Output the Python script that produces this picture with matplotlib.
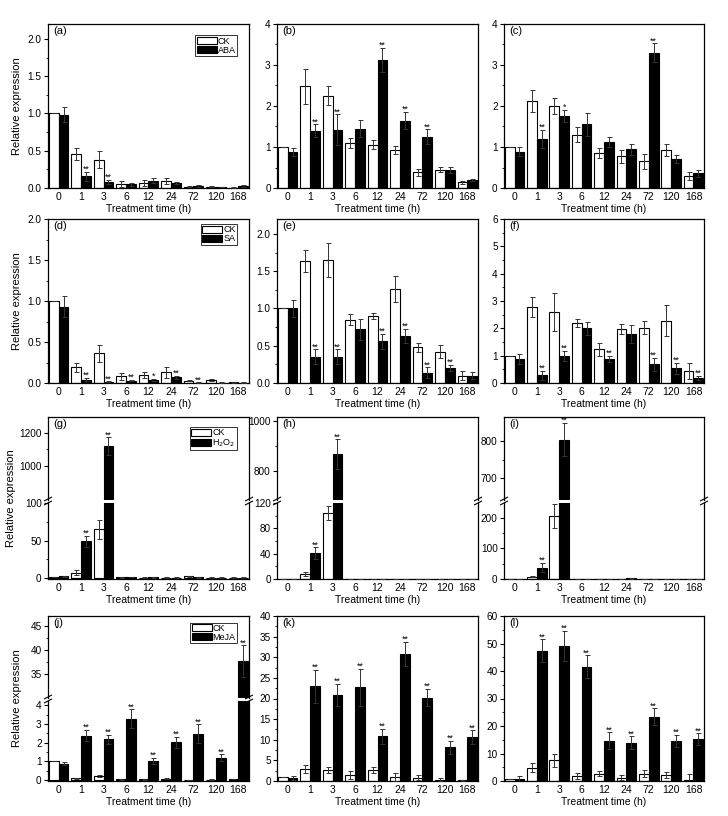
import matplotlib
matplotlib.use('Agg')
import matplotlib.pyplot as plt
from matplotlib.patches import Patch
from matplotlib.lines import Line2D
import numpy as np

plt.rcParams['font.family'] = ['Liberation Sans', 'DejaVu Sans']
plt.rcParams['font.size'] = 7.5

times = ['0', '1', '3', '6', '12', '24', '72', '120', '168']

# ---------------- data ----------------
a_ck = [1.0, 0.45, 0.38, 0.06, 0.07, 0.09, 0.02, 0.02, 0.005]
a_ck_err = [0.0, 0.08, 0.11, 0.04, 0.04, 0.04, 0.01, 0.01, 0.004]
a_tr = [0.98, 0.16, 0.08, 0.05, 0.10, 0.07, 0.025, 0.015, 0.03]
a_tr_err = [0.10, 0.06, 0.03, 0.02, 0.03, 0.01, 0.01, 0.005, 0.01]
a_sig = ['', '**', '**', '', '', '', '', '', '']

b_ck = [1.0, 2.48, 2.25, 1.10, 1.06, 0.93, 0.38, 0.45, 0.14]
b_ck_err = [0.0, 0.42, 0.23, 0.13, 0.11, 0.10, 0.09, 0.07, 0.04]
b_tr = [0.88, 1.40, 1.42, 1.45, 3.12, 1.64, 1.25, 0.44, 0.19]
b_tr_err = [0.10, 0.15, 0.38, 0.20, 0.30, 0.21, 0.18, 0.08, 0.03]
b_sig = ['', '**', '**', '', '**', '**', '**', '', '']

c_ck = [1.0, 2.12, 2.00, 1.30, 0.85, 0.77, 0.65, 0.93, 0.30]
c_ck_err = [0.0, 0.26, 0.20, 0.18, 0.13, 0.16, 0.19, 0.14, 0.10]
c_tr = [0.89, 1.20, 1.75, 1.55, 1.12, 0.94, 3.30, 0.70, 0.36]
c_tr_err = [0.10, 0.22, 0.15, 0.27, 0.13, 0.14, 0.23, 0.10, 0.09]
c_sig = ['', '**', '*', '', '', '', '**', '', '']

d_ck = [1.0, 0.19, 0.36, 0.08, 0.10, 0.13, 0.03, 0.04, 0.01]
d_ck_err = [0.0, 0.05, 0.10, 0.04, 0.04, 0.07, 0.01, 0.01, 0.005]
d_tr = [0.93, 0.04, 0.015, 0.03, 0.04, 0.07, 0.005, 0.005, 0.005]
d_tr_err = [0.13, 0.02, 0.005, 0.01, 0.01, 0.02, 0.003, 0.003, 0.003]
d_sig = ['', '**', '**', '**', '*', '**', '**', '', '']

e_ck = [1.0, 1.64, 1.65, 0.85, 0.90, 1.26, 0.48, 0.42, 0.10]
e_ck_err = [0.0, 0.15, 0.23, 0.07, 0.04, 0.17, 0.06, 0.09, 0.06]
e_tr = [1.0, 0.35, 0.35, 0.72, 0.56, 0.63, 0.14, 0.20, 0.10]
e_tr_err = [0.12, 0.10, 0.10, 0.14, 0.10, 0.10, 0.07, 0.04, 0.05]
e_sig = ['', '**', '**', '', '**', '**', '**', '**', '']

f_ck = [1.0, 2.77, 2.60, 2.20, 1.23, 1.98, 2.03, 2.28, 0.44]
f_ck_err = [0.0, 0.36, 0.68, 0.15, 0.25, 0.19, 0.25, 0.57, 0.30]
f_tr = [0.88, 0.28, 1.00, 2.00, 0.88, 1.80, 0.68, 0.54, 0.19]
f_tr_err = [0.18, 0.16, 0.18, 0.25, 0.12, 0.33, 0.24, 0.21, 0.08]
f_sig = ['', '**', '**', '', '**', '', '**', '**', '**']

g_ck = [1.0, 7.0, 65.0, 0.8, 0.5, 0.5, 2.0, 0.5, 0.5]
g_ck_err = [0.0, 3.0, 13.0, 0.3, 0.3, 0.3, 0.8, 0.2, 0.2]
g_tr = [2.0, 49.0, 1120.0, 1.0, 0.6, 0.5, 1.0, 0.4, 0.5]
g_tr_err = [0.5, 7.0, 55.0, 0.3, 0.3, 0.2, 0.5, 0.2, 0.2]
g_sig = ['', '**', '**', '', '', '', '', '', '']

h_ck = [0.5, 8.0, 105.0, 0.5, 0.5, 0.5, 0.5, 0.3, 0.3]
h_ck_err = [0.2, 3.0, 11.0, 0.2, 0.2, 0.2, 0.2, 0.1, 0.1]
h_tr = [0.5, 41.0, 868.0, 0.5, 0.5, 0.5, 0.5, 0.3, 0.3]
h_tr_err = [0.2, 9.0, 60.0, 0.2, 0.2, 0.2, 0.2, 0.1, 0.1]
h_sig = ['', '**', '**', '', '', '', '', '', '']

i_ck = [0.5, 8.0, 205.0, 0.5, 0.5, 1.0, 0.5, 0.5, 0.5]
i_ck_err = [0.2, 2.0, 40.0, 0.2, 0.2, 0.5, 0.2, 0.2, 0.2]
i_tr = [0.5, 37.0, 804.0, 0.5, 1.0, 2.0, 0.5, 0.5, 1.0]
i_tr_err = [0.2, 15.0, 45.0, 0.2, 0.3, 0.5, 0.2, 0.2, 0.3]
i_sig = ['', '**', '**', '', '', '', '', '', '']

j_ck = [1.0, 0.10, 0.22, 0.04, 0.04, 0.08, 0.02, 0.03, 0.06]
j_ck_err = [0.0, 0.03, 0.05, 0.01, 0.01, 0.02, 0.01, 0.01, 0.02]
j_tr = [0.88, 2.38, 2.18, 3.28, 1.03, 2.02, 2.47, 1.20, 37.6]
j_tr_err = [0.07, 0.30, 0.25, 0.50, 0.15, 0.30, 0.50, 0.17, 3.3]
j_sig = ['', '**', '**', '**', '**', '**', '**', '**', '**']

k_ck = [1.0, 2.9, 2.6, 1.5, 2.6, 1.0, 0.8, 0.35, 0.2]
k_ck_err = [0.0, 1.0, 0.7, 0.9, 0.7, 0.9, 0.6, 0.45, 0.1]
k_tr = [0.8, 23.0, 20.9, 22.7, 10.8, 30.9, 20.2, 8.2, 10.6]
k_tr_err = [0.5, 4.0, 2.6, 4.5, 1.8, 2.9, 2.1, 1.6, 1.7]
k_sig = ['', '**', '**', '**', '**', '**', '**', '**', '**']

l_ck = [0.9, 4.8, 7.5, 1.9, 2.7, 1.2, 2.6, 2.2, 0.5]
l_ck_err = [0.0, 1.7, 2.5, 1.1, 0.9, 0.9, 1.3, 1.1, 2.2]
l_tr = [0.9, 47.3, 49.0, 41.5, 14.6, 14.0, 23.3, 14.6, 15.2]
l_tr_err = [1.1, 4.2, 5.5, 4.2, 3.1, 2.2, 3.1, 2.2, 2.1]
l_sig = ['', '**', '**', '**', '**', '**', '**', '**', '**']

# ---------------- layout ----------------
W, H = 728, 816
fig = plt.figure(figsize=(W / 100, H / 100), dpi=100)

cols = [(48, 249), (277, 478), (504, 704)]
rows = [(24, 188), (219, 383), (417, 579), (616, 781)]
ylab_x = [17, 17, 11, 17]
GAP = 3
BW = 0.44
ERRC = '#333333'
TFS = 7.2


def fpos(l, t, r, b):
    return [l / W, 1 - b / H, (r - l) / W, (b - t) / H]


def draw(ax, ck, ckerr, tr, trerr, sig):
    x = np.arange(len(times))
    ax.bar(x - BW / 2, ck, BW, color='white', edgecolor='black', lw=0.8, zorder=2)
    ax.bar(x + BW / 2, tr, BW, color='black', edgecolor='black', lw=0.8, zorder=2)
    ax.errorbar(x - BW / 2, ck, yerr=ckerr, fmt='none', ecolor=ERRC,
                elinewidth=0.7, capsize=1.8, capthick=0.7, zorder=3)
    ax.errorbar(x + BW / 2, tr, yerr=trerr, fmt='none', ecolor=ERRC,
                elinewidth=0.7, capsize=1.8, capthick=0.7, zorder=3)
    for xi, v, e, s in zip(x, tr, trerr, sig):
        if s:
            ax.annotate(s, (xi + BW / 2, v + e), xytext=(0, -1.5),
                        textcoords='offset points', ha='center', va='bottom',
                        fontsize=6.3, annotation_clip=True)
    ax.set_xlim(-0.47, len(times) - 1 + 0.47)
    ax.set_xticks(x)
    ax.set_xticklabels(times)
    ax.tick_params(axis='x', length=0, pad=3, labelsize=TFS + 0.3)
    ax.tick_params(axis='y', direction='out', length=3, width=0.8, labelsize=TFS, pad=1.5)
    ax.tick_params(axis='y', which='minor', direction='out', length=1.5, width=0.6)
    for sp in ax.spines.values():
        sp.set_linewidth(0.9)


def simple(ci, ri, ck, ckerr, tr, trerr, sig, ylim, yticks, fmt, label):
    l, r = cols[ci]
    t, b = rows[ri]
    ax = fig.add_axes(fpos(l, t, r, b))
    draw(ax, ck, ckerr, tr, trerr, sig)
    ax.set_ylim(*ylim)
    ax.set_yticks(yticks)
    ax.set_yticklabels([fmt.format(v) for v in yticks])
    ax.set_yticks([(yticks[i] + yticks[i + 1]) / 2 for i in range(len(yticks) - 1)], minor=True)
    ax.text(0.025, 0.985, label, transform=ax.transAxes, ha='left', va='top', fontsize=8)
    ax.set_xlabel('Treatment time (h)', fontsize=7.5, labelpad=1)
    return ax


def broken(ci, ri, brk, ck, ckerr, tr, trerr, sig, ylo, yticks_lo, yhi, yticks_hi, label):
    l, r = cols[ci]
    t, b = rows[ri]
    axl = fig.add_axes(fpos(l, brk + GAP / 2, r, b))
    axu = fig.add_axes(fpos(l, t, r, brk - GAP / 2))
    for ax in (axl, axu):
        draw(ax, ck, ckerr, tr, trerr, sig)
    axl.set_ylim(*ylo)
    axu.set_ylim(*yhi)
    axl.set_yticks(yticks_lo)
    axu.set_yticks(yticks_hi)
    axl.set_yticks([(yticks_lo[i] + yticks_lo[i + 1]) / 2 for i in range(len(yticks_lo) - 1)], minor=True)
    mh = [(yticks_hi[i] + yticks_hi[i + 1]) / 2 for i in range(len(yticks_hi) - 1)]
    axu.set_yticks(mh, minor=True)
    axl.spines['top'].set_visible(False)
    axu.spines['bottom'].set_visible(False)
    axu.tick_params(axis='x', labelbottom=False)
    axu.text(0.025, 0.97, label, transform=axu.transAxes, ha='left', va='top', fontsize=8)
    axl.set_xlabel('Treatment time (h)', fontsize=7.5, labelpad=1)
    # break marks
    for x0 in (l, r):
        for dy in (-GAP / 2 - 0.5, GAP / 2 + 0.5):
            y0 = brk + dy
            xs = [(x0 - 3.5) / W, (x0 + 3.5) / W]
            ys = [1 - (y0 + 1.8) / H, 1 - (y0 - 1.8) / H]
            fig.add_artist(Line2D(xs, ys, color='black', lw=0.8))
    return axl, axu


def legend(ax, name, anchor):
    h = [Patch(facecolor='white', edgecolor='black', lw=0.8, label='CK'),
         Patch(facecolor='black', edgecolor='black', lw=0.8, label=name)]
    lg = ax.legend(handles=h, loc='upper right', bbox_to_anchor=anchor, fontsize=6.5,
                   frameon=True, fancybox=False, edgecolor='black', borderpad=0.15,
                   labelspacing=0.0, handlelength=2.2, handleheight=0.8,
                   handletextpad=0.1, borderaxespad=0)
    lg.get_frame().set_linewidth(0.7)


fs = '{:.1f}'
fi = '{:.0f}'

ax = simple(0, 0, a_ck, a_ck_err, a_tr, a_tr_err, a_sig, (0, 2.2), [0, 0.5, 1.0, 1.5, 2.0], fs, '(a)')
legend(ax, 'ABA', (0.94, 0.93))
simple(1, 0, b_ck, b_ck_err, b_tr, b_tr_err, b_sig, (0, 4), [0, 1, 2, 3, 4], fi, '(b)')
simple(2, 0, c_ck, c_ck_err, c_tr, c_tr_err, c_sig, (0, 4), [0, 1, 2, 3, 4], fi, '(c)')

ax = simple(0, 1, d_ck, d_ck_err, d_tr, d_tr_err, d_sig, (0, 2.0), [0, 0.5, 1.0, 1.5, 2.0], fs, '(d)')
legend(ax, 'SA', (0.94, 0.97))
simple(1, 1, e_ck, e_ck_err, e_tr, e_tr_err, e_sig, (0, 2.2), [0, 0.5, 1.0, 1.5, 2.0], fs, '(e)')
simple(2, 1, f_ck, f_ck_err, f_tr, f_tr_err, f_sig, (0, 6), [0, 1, 2, 3, 4, 5, 6], fi, '(f)')

axl, axu = broken(0, 2, 501, g_ck, g_ck_err, g_tr, g_tr_err, g_sig,
                  (-1.5, 101), [0, 50, 100], (790, 1300), [1000, 1200], '(g)')
legend(axu, 'H$_2$O$_2$', (0.94, 0.88))
broken(1, 2, 501, h_ck, h_ck_err, h_tr, h_tr_err, h_sig,
       (0, 121), [0, 40, 80, 120], (686, 1017), [800, 1000], '(h)')
broken(2, 2, 501, i_ck, i_ck_err, i_tr, i_tr_err, i_sig,
       (0, 249), [0, 100, 200], (642, 865), [700, 800], '(i)')

axl, axu = broken(0, 3, 699, j_ck, j_ck_err, j_tr, j_tr_err, j_sig,
                  (-0.05, 4.25), [0, 1, 2, 3, 4], (30.1, 47), [35, 40, 45], '(j)')
legend(axu, 'MeJA', (0.94, 0.92))
simple(1, 3, k_ck, k_ck_err, k_tr, k_tr_err, k_sig, (0, 40), [0, 5, 10, 15, 20, 25, 30, 35, 40], fi, '(k)')
simple(2, 3, l_ck, l_ck_err, l_tr, l_tr_err, l_sig, (0, 60), [0, 10, 20, 30, 40, 50, 60], fi, '(l)')

for ri in range(4):
    t, b = rows[ri]
    fig.text(ylab_x[ri] / W, 1 - ((t + b) / 2) / H, 'Relative expression', rotation=90,
             ha='center', va='center', fontsize=8)

fig.savefig('out.png', dpi=100)
